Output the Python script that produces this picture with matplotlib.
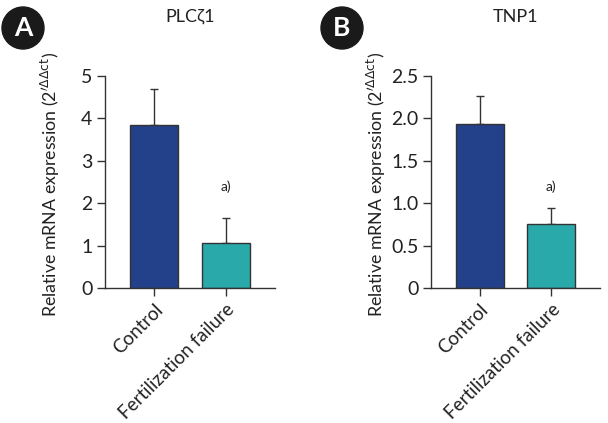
import numpy as np
import matplotlib.pyplot as plt
from matplotlib.patches import Circle

plt.rcParams['font.family'] = ['Lato', 'Open Sans', 'DejaVu Sans']

groups = ['Control', 'Fertilization failure']
colors = ['#23418a', '#2aa9aa']

plc_mean = [3.85, 1.06]
plc_err = [0.85, 0.60]
plc_ticks = [0, 1, 2, 3, 4, 5]
plc_ticklabels = ['0', '1', '2', '3', '4', '5']

tnp_mean = [1.93, 0.75]
tnp_err = [0.34, 0.19]
tnp_ticks = [0, 0.5, 1.0, 1.5, 2.0, 2.5]
tnp_ticklabels = ['0', '0.5', '1.0', '1.5', '2.0', '2.5']

ylabel = r"Relative mRNA expression (2$^{\prime\Delta\Delta \mathrm{ct}}$)"

fig = plt.figure(figsize=(6.08, 4.23), dpi=100)
ax1 = fig.add_axes([0.1727, 0.3191, 0.2796, 0.5012])
ax2 = fig.add_axes([0.7089, 0.3191, 0.278, 0.5012])


def draw(ax, mean, err, ticks, ticklabels, ymax, title, star_y, lab_x):
    x = np.arange(len(groups))
    ax.bar(x, mean, width=0.667, color=colors, edgecolor='#333333', linewidth=1.0, zorder=2)
    ax.errorbar(x, mean, yerr=[[0, 0], err], fmt='none', ecolor='#333333',
                elinewidth=1.0, capsize=3, capthick=1.0, zorder=1)
    ax.set_xlim(-0.68, 1.68)
    ax.set_ylim(0, ymax)
    ax.set_yticks(ticks)
    ax.set_yticklabels(ticklabels, fontsize=14, color='#222222')
    ax.set_xticks(x)
    ax.set_xticklabels(groups, rotation=45, ha='right', rotation_mode='anchor',
                       fontsize=13.5, color='#222222')
    for s in ['top', 'right']:
        ax.spines[s].set_visible(False)
    for s in ['left', 'bottom']:
        ax.spines[s].set_color('#333333')
        ax.spines[s].set_linewidth(1.0)
    ax.tick_params(axis='both', length=6, width=1.0, color='#333333', pad=3)
    ax.set_ylabel(ylabel, fontsize=12.8, color='#222222', va='center')
    ax.yaxis.set_label_coords(lab_x, 0.49)
    ax.text(0.5, 1.28, title, transform=ax.transAxes, ha='center', va='center',
            fontsize=13, color='#222222')
    ax.text(1, star_y, 'a)', ha='center', va='center', fontsize=10, color='#222222')


draw(ax1, plc_mean, plc_err, plc_ticks, plc_ticklabels, 5, 'PLCζ1', 2.38, -0.318)
draw(ax2, tnp_mean, tnp_err, tnp_ticks, tnp_ticklabels, 2.5, 'TNP1', 1.19, -0.325)

for cx, letter in [(23, 'A'), (342, 'B')]:
    fx, fy = cx / 608, 1 - 28 / 423
    fig.patches.append(Circle((cx, 423 - 28), 21, transform=None, color='#1a1a1a'))
    fig.text(fx, fy, letter, ha='center', va='center', fontsize=19,
             fontweight='bold', color='white')

fig.savefig('out.png', dpi=100)
